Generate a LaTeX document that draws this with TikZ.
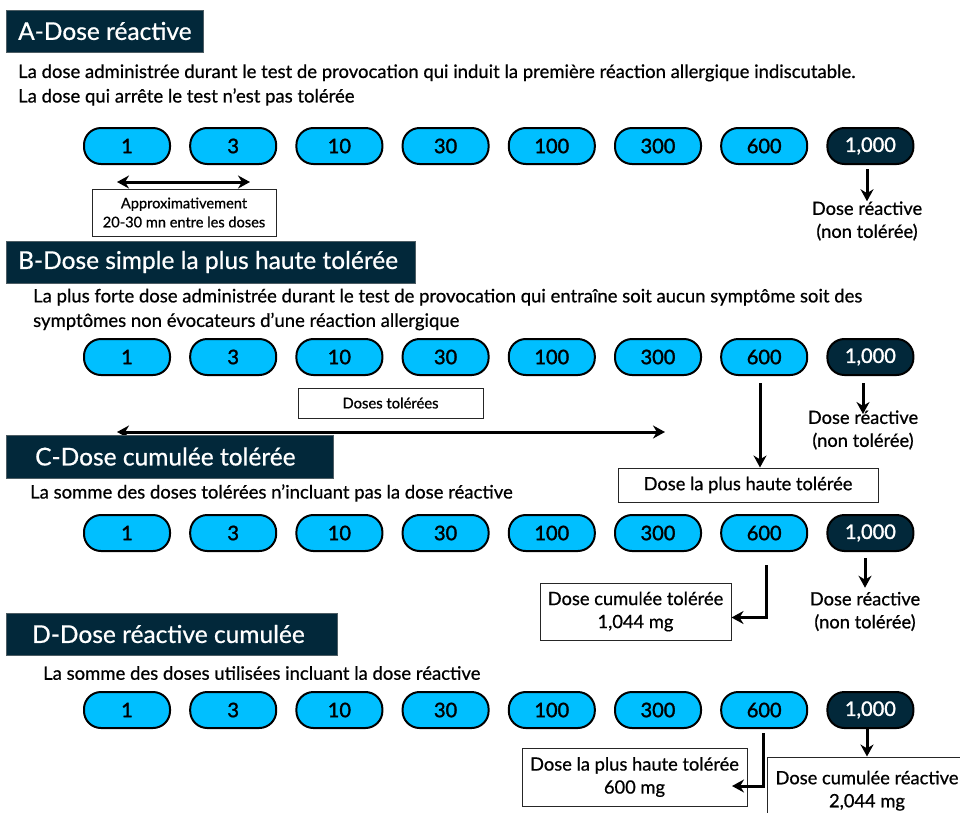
\documentclass[tikz,border=0pt]{standalone}
\usepackage{fontspec}
\setmainfont{Lato}[FakeBold=0.7]
\newfontfamily\pillfont{Lato}[FakeBold=1.6]
\usetikzlibrary{arrows.meta}
\definecolor{navy}{HTML}{02283A}
\definecolor{sky}{HTML}{00BFFF}
\begin{document}
\begin{tikzpicture}[x=1pt,y=-1pt,
  pill/.style={draw=black, line width=2pt, fill=sky, rounded corners=17pt,
    minimum width=86pt, minimum height=36pt, inner sep=0pt,
    font=\pillfont\fontsize{20}{22}\selectfont, text=black},
  darkpill/.style={pill, fill=navy, text=white},
  headbox/.style={fill=navy, draw=gray!60!navy, line width=0.6pt, anchor=north west, inner sep=0pt},
  headtext/.style={text=white, anchor=west, inner sep=0pt, font=\fontsize{24.5}{28}\selectfont},
  body/.style={anchor=west, align=left, inner sep=0pt, font=\fontsize{18.5}{24.5}\selectfont},
  note/.style={draw=black!85, line width=1pt, inner sep=0pt, align=center},
  lbl/.style={align=center, inner sep=0pt, font=\fontsize{18.3}{23}\selectfont},
  arr/.style={line width=3pt, -{Stealth[length=12pt,width=13pt]}},
  dbl/.style={line width=3pt, {Stealth[length=12pt,width=13pt]}-{Stealth[length=12pt,width=13pt]}}
]
\useasboundingbox (0,0) rectangle (960,812);
\clip (0,0) rectangle (960,812);

% ---------- A ----------
\node[headbox, minimum width=197pt, minimum height=42pt] (hA) at (6,10) {};
\node[headtext] (hAt) at (18,31) {A-Dose réactive};
\node[body] (bA) at (18,85) {La dose administrée durant le test de provocation qui induit la première réaction allergique indiscutable.\\La dose qui arrête le test n’est pas tolérée};

\foreach \v [count=\i from 0] in {1,3,10,30,100,300,600}
  \node[pill] (A\i) at (127+106.2*\i,146) {\v};
\node[darkpill] (A7) at (870.4,146) {1,000};

\coordinate (aL) at (117,182);
\coordinate (aR) at (250,182);
\draw[dbl] (aL) -- (aR);
\node[note, minimum width=184pt, minimum height=47pt, font=\fontsize{14.6}{19}\selectfont] (apx) at (184,212.5)
  {Approximativement\\20-30 mn entre les doses};
\node[lbl] (rA) at (867,221) {Dose réactive\\(non tolérée)};
\draw[arr] ([yshift=-4pt]A7.south -| rA.north) -- (rA.north);

% ---------- B ----------
\node[headbox, minimum width=409pt, minimum height=42pt] (hB) at (6,241) {};
\node[headtext] (hBt) at (18,262) {B-Dose simple la plus haute tolérée};
\node[body] (bB) at (33,309.5) {La plus forte dose administrée durant le test de provocation qui entraîne soit aucun symptôme soit des\\symptômes non évocateurs d’une réaction allergique};

\foreach \v [count=\i from 0] in {1,3,10,30,100,300,600}
  \node[pill] (B\i) at (127+106.2*\i,357) {\v};
\node[darkpill] (B7) at (870.4,357) {1,000};

\node[note, minimum width=185pt, minimum height=30pt, font=\fontsize{14.8}{18}\selectfont] (tol) at (390.5,403) {Doses tolérées};
\coordinate (bL) at (117,432);
\coordinate (bR) at (665,432);
\draw[dbl] (bL) -- (bR);

\node[note, minimum width=260pt, minimum height=34pt, font=\fontsize{18.3}{22}\selectfont] (hiB) at (748,485) {Dose la plus haute tolérée};
\coordinate (bS7) at (760,383);
\draw[arr] (bS7) -- (bS7 |- hiB.north);

\node[lbl] (rB) at (863,430) {Dose réactive\\(non tolérée)};
\coordinate (bS8) at (863,383);
\coordinate (bE8) at (863,414);
\draw[arr] (bS8) -- (bE8);

% ---------- C ----------
\node[headbox, minimum width=327pt, minimum height=43pt] (hC) at (6,435) {};
\node[headtext] (hCt) at (35,456.5) {C-Dose cumulée tolérée};
\node[body] (bC) at (30,493) {La somme des doses tolérées n’incluant pas la dose réactive};

\foreach \v [count=\i from 0] in {1,3,10,30,100,300,600}
  \node[pill] (C\i) at (127+106.2*\i,533) {\v};
\node[darkpill] (C7) at (870.4,533) {1,000};

\node[note, minimum width=191pt, minimum height=57pt, font=\fontsize{18.3}{23}\selectfont] (cumC) at (635.5,611.5) {Dose cumulée tolérée\\1,044 mg};
\coordinate (cS7) at (766,565);
\draw[arr] (cS7) |- ([yshift=-6pt]cumC.east);

\node[lbl] (rC) at (865,611.5) {Dose réactive\\(non tolérée)};
\draw[arr] ([yshift=-6pt]C7.south -| rC.north) -- ([yshift=4pt]rC.north);

% ---------- D ----------
\node[headbox, minimum width=331pt, minimum height=42pt] (hD) at (6,613) {};
\node[headtext] (hDt) at (32,634) {D-Dose réactive cumulée};
\node[body] (bD) at (43,673) {La somme des doses utilisées incluant la dose réactive};

\foreach \v [count=\i from 0] in {1,3,10,30,100,300,600}
  \node[pill] (D\i) at (127+106.2*\i,710) {\v};
\node[darkpill] (D7) at (870.4,710) {1,000};

\node[note, minimum width=225pt, minimum height=58pt, font=\fontsize{18.3}{23}\selectfont] (hiD) at (634.5,777) {Dose la plus haute tolérée\\600 mg};
\coordinate (dS7) at (763,733);
\coordinate (dE7) at (732,786);
\draw[arr] (dS7) |- (dE7);

\node[note, minimum width=200pt, minimum height=64pt, font=\fontsize{18.3}{23}\selectfont, text depth=0pt] (cumD) at (867,789) {Dose cumulée réactive\\2,044 mg};
\draw[arr] (D7.south -| cumD.north) -- (cumD.north);

\end{tikzpicture}
\end{document}
